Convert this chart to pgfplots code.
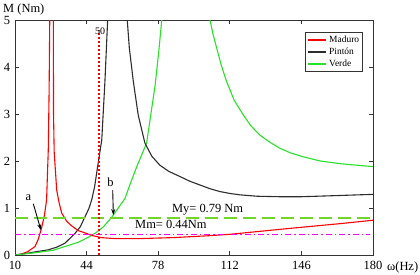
\documentclass[border=0pt]{standalone}
\usepackage{fontspec}
\setmainfont{Liberation Serif}
\usepackage{pgfplots}
\pgfplotsset{compat=1.18}
\usetikzlibrary{arrows.meta}
\definecolor{cRed}{RGB}{255,0,0}
\definecolor{cBlack}{RGB}{45,45,45}
\definecolor{cGreen}{RGB}{40,225,40}
\definecolor{cLine}{RGB}{110,215,40}
\definecolor{cMag}{RGB}{255,0,255}
\begin{document}
\begin{tikzpicture}
\path[use as bounding box] (-15bp,-20bp) rectangle (405bp,255bp);
\begin{axis}[
  at={(0,0)}, anchor=south west,
  scale only axis, width=358bp, height=235bp,
  xmin=10, xmax=180, ymin=0, ymax=5,
  xtick={10,44,78,112,146,180}, ytick={0,1,2,3,4,5},
  tick pos=both, tick align=inside, major tick length=4bp,
  axis line style={draw=black!80, line width=0.8bp},
  every tick/.style={black!80, line width=0.7bp},
  /pgf/number format/assume math mode=true,
  tick label style={font=\fontsize{12.5}{14}\selectfont},
  xticklabel style={yshift=-2.5bp},
  yticklabel style={xshift=-1.5bp},
  clip mode=individual,
  legend style={at={(0.972,0.949)}, anchor=north east, draw=black!80, line width=0.6bp,
    font=\fontsize{9.5}{11}\selectfont, inner sep=1.5bp, row sep=0pt},
  legend cell align=left,
  legend image code/.code={\draw[line width=2.6bp] (0bp,0bp) -- (18bp,0bp);},
]
% Maduro
\addplot[cRed, line width=1.1bp] coordinates {
 (10,0) (13,0.02) (16,0.07) (19.5,0.18) (21,0.33) (22.6,0.57) (24,0.85) (25,1.17)
 (25.8,2.23) (26.2,3.5) (26.5,5) (26.6,6)};
\addlegendentry{Maduro}
\addplot[cBlack, line width=1.1bp] coordinates {
 (10,0) (15,0.03) (20,0.07) (25.8,0.11) (30,0.17) (33.7,0.25) (36,0.35) (38.5,0.46) (41,0.6)
 (43.2,0.81) (45,0.98) (46.4,1.17) (47.8,1.45) (48.8,1.75) (50,2.1) (51.2,2.45) (52.7,3.69) (54,5) (54.2,6)};
\addlegendentry{Pint\'on}
\addplot[cGreen, line width=1.1bp] coordinates {
 (10,0) (20,0.05) (28,0.1) (33.7,0.18) (40,0.27) (44,0.36) (48,0.46) (52,0.6)
 (56,0.81) (59,1.0) (62.2,1.2) (64.6,1.5) (68,1.9) (72.5,2.38) (76.5,3.6) (78.2,4.3)
 (79.7,5) (79.9,6)};
\addlegendentry{Verde}
% right branches
\addplot[cRed, line width=1.1bp, forget plot] coordinates {
 (28.0,6) (28.2,5) (28.3,3) (28.6,2.2) (29.8,1.38) (31,1.1) (32.2,0.89) (34.5,0.72)
 (36.9,0.62) (40,0.52) (43.2,0.47) (47,0.41) (51,0.37) (57,0.35) (70,0.35) (85,0.37)
 (102,0.41) (112,0.44) (130,0.52) (146,0.59) (165,0.67) (180,0.74)};
\addplot[cBlack, line width=1.1bp, forget plot] coordinates {
 (63.1,6) (63.3,5) (64.3,4.4) (66.2,3.69) (68.5,2.98) (71.7,2.38) (75,2.1) (78.8,1.91)
 (83,1.78) (88.3,1.67) (93,1.57) (97.8,1.49) (102.6,1.41) (107.3,1.35) (112,1.31) (116.8,1.28)
 (125,1.25) (135.8,1.24) (146,1.24) (160,1.26) (180,1.29)};
\addplot[cGreen, line width=1.1bp, forget plot] coordinates {
 (102.4,6) (102.6,5) (104,4.7) (105.8,4.4) (108,4.03) (110.5,3.69) (114,3.3) (118.4,2.98)
 (122,2.75) (126.3,2.55) (131,2.4) (135.8,2.27) (141,2.17) (146.8,2.09) (155,2.0)
 (165,1.94) (180,1.88)};
% reference lines
\addplot[draw=cLine, color=cLine, line width=1.4bp, dash pattern=on 13bp off 6bp, forget plot] coordinates {(10,0.79) (178.5,0.79)};
\addplot[draw=cMag, line width=1bp, dash pattern=on 6bp off 3bp on 1.5bp off 3bp, forget plot] coordinates {(10,0.44) (178.5,0.44)};
\addplot[draw=cRed, color=cRed, line width=1.5bp, dash pattern=on 2bp off 2bp, forget plot] coordinates {(50,0) (50,4.78)};
% annotations
\node[anchor=base, font=\fontsize{10}{11}\selectfont, inner sep=0pt] at (axis cs:50.4,4.7) {50};
\node[anchor=base west, font=\fontsize{12.5}{14}\selectfont, inner sep=0pt] at (axis cs:84.5,0.91) {My= 0.79 Nm};
\node[anchor=base west, font=\fontsize{12.5}{14}\selectfont, inner sep=0pt] at (axis cs:67,0.57) {Mm= 0.44Nm};
\node[anchor=base, font=\fontsize{12.5}{14}\selectfont, inner sep=0pt] at (axis cs:16.3,1.15) {a};
\node[anchor=base, font=\fontsize{12.5}{14}\selectfont, inner sep=0pt] at (axis cs:55.4,1.45) {b};
\draw[-{Stealth[length=6bp,width=4bp]}, line width=0.9bp] (axis cs:18.7,1.09) -- (axis cs:22.3,0.53);
\draw[-{Stealth[length=6bp,width=4bp]}, line width=0.9bp] (axis cs:56.4,1.38) -- (axis cs:56.7,0.85);
\node[anchor=base west, font=\fontsize{12.5}{14}\selectfont, inner sep=0pt] at (rel axis cs:-0.0335,1.031) {M (Nm)};
\node[anchor=base west, font=\fontsize{12.5}{14}\selectfont, inner sep=0pt] at (rel axis cs:1.039,-0.067) {ω(Hz)};
\end{axis}
\end{tikzpicture}
\end{document}
